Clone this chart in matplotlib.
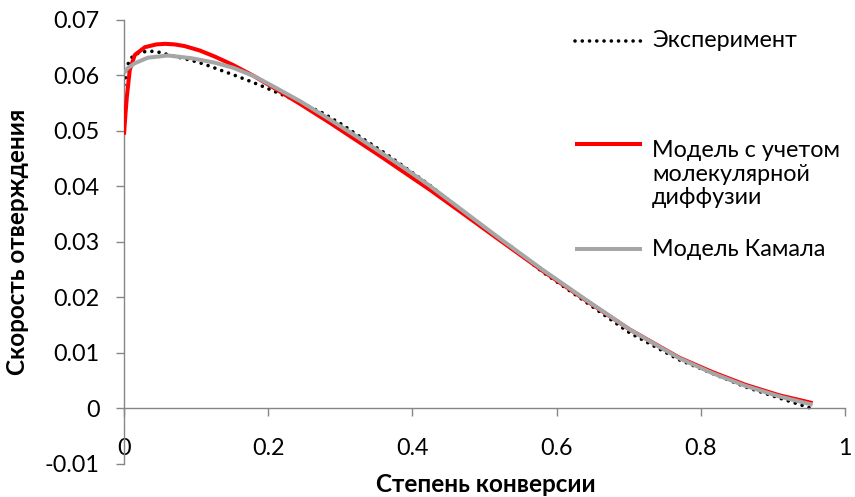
import matplotlib
matplotlib.use("Agg")
import matplotlib.pyplot as plt
from matplotlib.lines import Line2D

plt.rcParams["font.family"] = ["Lato", "DejaVu Sans"]

# experimental cure rate vs conversion
exp_x = [0, 0.006, 0.013, 0.022, 0.033, 0.045, 0.054, 0.075, 0.094, 0.112, 0.135,
         0.154, 0.172, 0.191, 0.209, 0.24, 0.276, 0.303, 0.329, 0.364, 0.389, 0.424,
         0.465, 0.5, 0.539, 0.58, 0.632, 0.701, 0.77, 0.862, 0.909, 0.957]
exp_y = [0.0583, 0.0622, 0.0637, 0.0641, 0.0644, 0.0643, 0.0640, 0.0633, 0.0627, 0.0620,
         0.0609, 0.0600, 0.0591, 0.0581, 0.0571, 0.0554, 0.0532, 0.0511, 0.0488, 0.0458,
         0.0435, 0.0402, 0.0360, 0.0324, 0.0289, 0.0246, 0.0199, 0.0136, 0.0087, 0.0038,
         0.0018, -0.0002]

# model accounting for molecular diffusion
diff_x = [0, 0.002, 0.004, 0.008, 0.015, 0.029, 0.045, 0.057, 0.07, 0.084, 0.105, 0.126,
          0.151, 0.18, 0.206, 0.245, 0.285, 0.32, 0.355, 0.39, 0.424, 0.47, 0.521, 0.58,
          0.641, 0.701, 0.77, 0.816, 0.862, 0.909, 0.955]
diff_y = [0.0493, 0.0530, 0.0562, 0.0610, 0.0637, 0.0651, 0.0656, 0.0657, 0.0656, 0.0653,
          0.0645, 0.0634, 0.0619, 0.0599, 0.0579, 0.0548, 0.0515, 0.0485, 0.0455, 0.0424,
          0.0394, 0.0351, 0.0303, 0.0248, 0.0194, 0.0142, 0.0091, 0.0065, 0.0042, 0.0023,
          0.0009]

# Kamal model
kamal_x = [0, 0.005, 0.015, 0.033, 0.061, 0.094, 0.126, 0.151, 0.18, 0.206, 0.245, 0.285,
           0.32, 0.355, 0.39, 0.424, 0.47, 0.521, 0.58, 0.641, 0.701, 0.77, 0.816, 0.862,
           0.909, 0.955]
kamal_y = [0.0604, 0.0613, 0.0622, 0.0632, 0.0636, 0.0631, 0.0623, 0.0614, 0.0599, 0.0581,
           0.0553, 0.0521, 0.0492, 0.0462, 0.0432, 0.0401, 0.0356, 0.0306, 0.0250, 0.0195,
           0.0142, 0.0090, 0.0063, 0.0040, 0.0021, 0.0006]

x_ticks = [0, 0.2, 0.4, 0.6, 0.8, 1]
x_ticklabels = ["0", "0.2", "0.4", "0.6", "0.8", "1"]
y_ticks = [-0.01, 0, 0.01, 0.02, 0.03, 0.04, 0.05, 0.06, 0.07]
y_ticklabels = ["-0.01", "0", "0.01", "0.02", "0.03", "0.04", "0.05", "0.06", "0.07"]

labels = ["Эксперимент", "Модель с учетом\nмолекулярной\nдиффузии", "Модель Камала"]

W, H = 855, 497
FS = 16.8
fig = plt.figure(figsize=(W / 100, H / 100), dpi=100)
ax = fig.add_axes([124 / W, 1 - 463.5 / H, 721 / W, 443.5 / H])

dot_style = dict(color="black", lw=2.6, linestyle=(0, (0.01, 2.0)), dash_capstyle="round")
red_style = dict(color="#ff0000", lw=2.9, solid_capstyle="butt")
grey_style = dict(color="#a6a6a6", lw=2.9, solid_capstyle="butt")

ax.plot(exp_x, exp_y, **dot_style, zorder=2)
ax.plot(diff_x, diff_y, **red_style, zorder=3)
ax.plot(kamal_x, kamal_y, **grey_style, zorder=4)

ax.set_xlim(0, 1)
ax.set_ylim(-0.01, 0.07)
ax.set_xticks(x_ticks)
ax.set_xticklabels(x_ticklabels)
ax.set_yticks(y_ticks)
ax.set_yticklabels(y_ticklabels)

axis_grey = "#868686"
for side in ("top", "right"):
    ax.spines[side].set_visible(False)
ax.spines["bottom"].set_position(("data", 0))
for side in ("left", "bottom"):
    ax.spines[side].set_color(axis_grey)
    ax.spines[side].set_linewidth(1.0)
ax.tick_params(axis="both", colors=axis_grey, labelcolor="black", labelsize=FS,
               length=5.5, width=1.0, direction="out")
ax.tick_params(axis="x", pad=16)
ax.tick_params(axis="y", pad=12)

fig.text(486 / W, 1 - 485 / H, "Степень конверсии", ha="center", va="center",
         fontsize=17.5, fontweight="bold")
fig.text(18 / W, 1 - 241.5 / H, "Скорость отверждения", ha="center", va="center",
         rotation=90, fontsize=17.5, fontweight="bold")


# legend drawn by hand so entries sit where Excel put them
def fx(px):
    return px / W


def fy(py):
    return 1 - py / H


handles = [(40.5, dot_style), (144, red_style), (249, grey_style)]
text_y = [40.5, 174, 249]
for (hy, style), ty, lab in zip(handles, text_y, labels):
    fig.add_artist(Line2D([fx(575), fx(642)], [fy(hy), fy(hy)], transform=fig.transFigure, **style))
    fig.text(fx(652), fy(ty), lab, ha="left", va="center", fontsize=FS, linespacing=1.15)

fig.savefig("out.png", dpi=100)
